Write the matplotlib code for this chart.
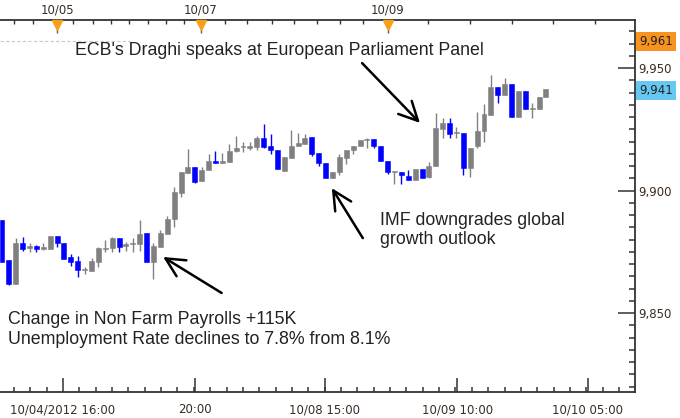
import matplotlib.pyplot as plt
import matplotlib.transforms as mtransforms
import numpy as np

# hourly candles
opens = [9888.0, 9871.6, 9861.8, 9878.6, 9876.5, 9877.5, 9876.3, 9876.1, 9881.4, 9878.6,
         9872.9, 9871.2, 9867.4, 9867.1, 9870.8, 9876.0, 9876.5, 9880.6, 9877.3, 9878.1,
         9878.2, 9882.7, 9870.8, 9876.9, 9882.2, 9888.4, 9899.0, 9907.1, 9909.6, 9903.9,
         9908.4, 9912.0, 9911.2, 9911.6, 9916.1, 9917.6, 9917.3, 9917.8, 9921.4, 9918.2,
         9916.5, 9908.0, 9913.3, 9918.2, 9919.0, 9921.8, 9915.3, 9911.2, 9905.1, 9907.6,
         9913.3, 9916.5, 9918.2, 9920.5, 9921.0, 9918.2, 9912.0, 9907.5, 9907.6, 9905.9,
         9904.3, 9908.8, 9905.5, 9910.0, 9925.1, 9927.6, 9923.4, 9923.5, 9909.2, 9918.2,
         9924.3, 9930.8, 9942.2, 9939.0, 9943.5, 9930.0, 9940.6, 9933.2, 9933.3, 9938.2]
highs = [9888.0, 9871.6, 9880.6, 9881.0, 9878.6, 9877.8, 9878.6, 9881.6, 9881.6, 9878.6,
         9874.1, 9873.3, 9868.8, 9872.4, 9876.9, 9879.8, 9881.0, 9880.6, 9879.0, 9880.6,
         9888.0, 9882.7, 9878.6, 9883.9, 9889.6, 9901.4, 9907.6, 9916.9, 9909.6, 9909.6,
         9914.9, 9916.1, 9915.3, 9919.0, 9922.2, 9919.8, 9919.8, 9922.2, 9927.1, 9923.1,
         9916.5, 9913.7, 9924.7, 9923.5, 9923.1, 9921.8, 9915.3, 9911.2, 9907.6, 9914.9,
         9916.5, 9918.2, 9920.6, 9921.4, 9921.0, 9918.2, 9912.0, 9907.8, 9907.6, 9908.4,
         9908.8, 9908.8, 9911.6, 9931.6, 9929.6, 9929.6, 9925.9, 9923.5, 9917.3, 9932.0,
         9935.3, 9947.1, 9942.2, 9945.9, 9943.5, 9940.6, 9940.6, 9935.7, 9938.2, 9941.4]
lows = [9870.8, 9861.4, 9861.8, 9875.3, 9874.9, 9874.9, 9875.9, 9876.1, 9876.9, 9872.0,
        9869.2, 9864.7, 9865.9, 9867.1, 9868.8, 9874.9, 9874.9, 9874.9, 9875.3, 9874.9,
        9875.3, 9870.8, 9863.9, 9876.9, 9882.2, 9885.1, 9897.3, 9907.1, 9903.0, 9903.9,
        9908.4, 9911.2, 9911.2, 9911.6, 9915.7, 9915.7, 9916.5, 9916.5, 9917.3, 9914.9,
        9908.8, 9908.0, 9913.3, 9918.2, 9919.0, 9914.1, 9910.0, 9905.1, 9905.1, 9906.3,
        9910.8, 9914.9, 9918.2, 9917.3, 9917.3, 9912.0, 9906.7, 9902.7, 9902.7, 9904.3,
        9904.3, 9905.1, 9905.1, 9910.0, 9921.4, 9921.4, 9921.4, 9906.3, 9905.5, 9917.3,
        9919.8, 9930.8, 9935.7, 9939.0, 9930.0, 9930.0, 9933.3, 9929.6, 9933.3, 9938.2]
closes = [9870.8, 9861.8, 9878.6, 9876.1, 9877.3, 9876.2, 9876.5, 9881.4, 9878.6, 9872.0,
          9870.8, 9867.6, 9867.7, 9871.2, 9876.5, 9876.2, 9880.6, 9876.9, 9878.2, 9878.3,
          9882.2, 9870.8, 9877.3, 9882.7, 9888.4, 9899.4, 9907.6, 9909.6, 9903.5, 9908.4,
          9912.0, 9911.2, 9912.0, 9916.1, 9917.3, 9917.8, 9918.2, 9921.4, 9917.8, 9916.5,
          9908.8, 9913.7, 9918.2, 9919.4, 9921.4, 9914.9, 9911.2, 9905.1, 9907.6, 9913.7,
          9916.5, 9918.2, 9920.6, 9920.7, 9918.2, 9912.0, 9907.6, 9907.7, 9906.3, 9904.3,
          9908.8, 9905.1, 9910.0, 9925.5, 9927.6, 9923.1, 9923.6, 9909.2, 9917.3, 9924.3,
          9931.2, 9942.2, 9939.0, 9943.5, 9930.0, 9940.6, 9933.3, 9933.4, 9938.2, 9941.4]

marker_price = 9961
bottom_tick_pos = [8.86, 28.03, 46.9, 66.1, 85.1]
bottom_tick_labels = ["10/04/2012 16:00", "20:00", "10/08 15:00", "10/09 10:00", "10/10 05:00"]
top_tick_pos = [1.74, 4.5, 10.3, 13.2, 15.8, 18.4, 21.2, 23.8, 26.4, 32.4, 35.6, 39.2,
                42.4, 45.7, 49.1, 52.4, 61.9, 68.0, 74.1, 80.0, 86.1]
day_pos = [8.0, 28.9, 56.06]
day_labels = ["10/05", "10/07", "10/09"]

lbl_color = '#3b2c22'
plt.rcParams['font.family'] = 'DejaVu Sans'

fig = plt.figure(figsize=(6.8, 4.18), dpi=100)
ax = fig.add_axes([0, 26 / 418, 635 / 680, 372 / 418])

x = np.arange(len(opens))
o = np.array(opens); c = np.array(closes)
up = c >= o
colors = np.where(up, '#808080', '#0000ff')
body_lo = np.minimum(o, c)
body_h = np.maximum(np.abs(c - o), 0.6)

ax.vlines(x, lows, highs, colors=colors, lw=1.0, zorder=2)
ax.bar(x, body_h, bottom=body_lo, width=0.72, color=colors, edgecolor=colors, lw=0.4, zorder=3)

ax.set_xlim(-0.29, 91.93)
ax.set_ylim(9817.8, 9969.6)

# spines
for s in ['top', 'bottom', 'right']:
    ax.spines[s].set_color('#333333')
    ax.spines[s].set_linewidth(1.3)
ax.spines['left'].set_visible(False)

# right price axis
ax.yaxis.tick_right()
ax.set_yticks([9850, 9900, 9950])
ax.set_yticks(np.arange(9820, 9970, 5), minor=True)
ax.set_yticklabels([f"{v:,}" for v in [9850, 9900, 9950]])
ax.tick_params(axis='y', which='major', direction='in', length=12, width=1.1, pad=2,
               labelsize=8.5, labelcolor=lbl_color, color='#333333')
ax.tick_params(axis='y', which='minor', direction='in', length=4.5, width=1.1, color='#333333')

# bottom time axis
ax.set_xticks(bottom_tick_pos)
ax.set_xticklabels(bottom_tick_labels)
ax.set_xticks(np.arange(bottom_tick_pos[0] - 3 * 19 / 8, 91.9, 19 / 8), minor=True)
ax.tick_params(axis='x', which='major', direction='in', length=10, width=1.1, pad=8,
               labelsize=8.5, labelcolor=lbl_color, color='#333333')
ax.tick_params(axis='x', which='minor', direction='in', length=3.5, width=1.1, color='#333333')

# top date axis
sec = ax.secondary_xaxis('top')
sec.set_xticks(top_tick_pos)
sec.tick_params(direction='in', length=3, width=1.0, labeltop=False, color='#333333')
sec.spines['top'].set_visible(False)

trans_top = mtransforms.blended_transform_factory(ax.transData, ax.transAxes)
ax.plot(day_pos, [0.987] * len(day_pos), linestyle='none', marker='v', markersize=7.5,
        color='#f7a11a', transform=trans_top, clip_on=False, zorder=5)
ax.vlines(day_pos, 0.965, 0.975, colors='#555555', lw=1, transform=trans_top, clip_on=False)
for pos, lab in zip(day_pos, day_labels):
    ax.text(pos, 1.028, lab, transform=trans_top, ha='center', va='center',
            fontsize=8.5, color=lbl_color, clip_on=False)

# marker price level + price boxes on the right
ax.hlines(marker_price, -0.29, 18.6, colors='#c8c8c8', linestyles=(0, (3, 2)), lw=0.8)
trans_right = mtransforms.blended_transform_factory(ax.transAxes, ax.transData)
ax.text(1.006, marker_price, f"{marker_price:,}", transform=trans_right, ha='left', va='center',
        fontsize=8.5, color='#222222', clip_on=False,
        bbox=dict(boxstyle='square,pad=0.25', fc='#f7931e', ec='none'))
last_price = round(closes[-1])
ax.text(1.006, last_price, f"{last_price:,}", transform=trans_right, ha='left', va='center',
        fontsize=8.5, color='#222222', clip_on=False,
        bbox=dict(boxstyle='square,pad=0.25', fc='#66c8f2', ec='none'))

# annotations
note_font = dict(family='Liberation Sans', fontsize=12.8, color='#222222')
ax.text(10.6, 9957.3, "ECB's Draghi speaks at European Parliament Panel", va='center', **note_font)
ax.text(54.9, 9883.9, "IMF downgrades global\ngrowth outlook", va='center', linespacing=1.2, **note_font)
ax.text(0.87, 9843.3, "Change in Non Farm Payrolls +115K\nUnemployment Rate declines to 7.8% from 8.1%",
        va='center', linespacing=1.2, **note_font)

arrow = dict(arrowstyle='->, head_length=0.9, head_width=0.45', lw=1.8, color='black',
             mutation_scale=15, shrinkA=0, shrinkB=0)
ax.annotate('', xy=(60.7, 9927.6), xytext=(52.3, 9952.0), arrowprops=arrow)
ax.annotate('', xy=(47.9, 9901.0), xytext=(52.4, 9880.6), arrowprops=arrow)
ax.annotate('', xy=(23.4, 9872.9), xytext=(31.9, 9858.2), arrowprops=arrow)

fig.savefig('out.png', dpi=100)
